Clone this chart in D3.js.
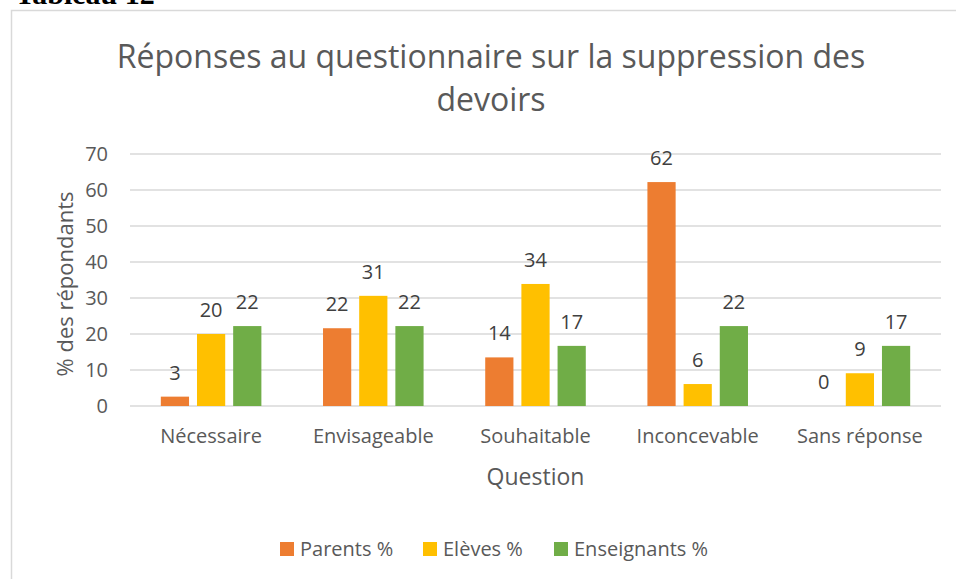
<!DOCTYPE html>
<html>
<head>
<meta charset="utf-8">
<script src="https://cdn.jsdelivr.net/npm/d3@7"></script>
<style>
  body { margin: 0; background: #fff; }
  svg text { font-family: "Open Sans", "Liberation Sans", sans-serif; }
</style>
</head>
<body>
<div id="chart"></div>
<script>
// data
const categories = ["Nécessaire", "Envisageable", "Souhaitable", "Inconcevable", "Sans réponse"];
const seriesNames = ["Parents %", "Elèves %", "Enseignants %"];
const parents = [2.6, 21.6, 13.5, 62.2, 0];
const eleves = [20, 30.6, 33.9, 6.1, 9.1];
const enseignants = [22.2, 22.2, 16.7, 22.2, 16.7];
const yTicks = [0, 10, 20, 30, 40, 50, 60, 70];
const colors = ["#ed7d31", "#ffc000", "#70ad47"];

const W = 956, H = 579;
const margin = {top: 154, right: 15, bottom: 173, left: 130};
const width = W - margin.left - margin.right;
const height = H - margin.top - margin.bottom;

const svg = d3.select("#chart").append("svg")
  .attr("width", W).attr("height", H);

// page caption, mostly cut off at top
svg.append("text")
  .attr("x", 15).attr("y", 4)
  .style("font-family", "'Liberation Serif', serif")
  .style("font-weight", "bold")
  .style("font-size", "30px")
  .attr("fill", "#000")
  .text("Tableau 12");

// chart frame
svg.append("rect")
  .attr("x", 11.5).attr("y", 10.5)
  .attr("width", W).attr("height", H)
  .attr("fill", "none")
  .attr("stroke", "#d9d9d9").attr("stroke-width", 1.5);

// title
const title = svg.append("text")
  .attr("text-anchor", "middle")
  .attr("fill", "#595959")
  .style("font-size", "32px");
title.append("tspan").attr("x", 491).attr("y", 68).text("Réponses au questionnaire sur la suppression des");
title.append("tspan").attr("x", 491).attr("y", 111).text("devoirs");

const g = svg.append("g")
  .attr("transform", `translate(${margin.left},${margin.top})`);

const x0 = d3.scaleBand().domain(categories).range([0, width]).paddingInner(0).paddingOuter(0);
const x1 = d3.scaleBand().domain(d3.range(3))
  .range([x0.bandwidth() * 0.19, x0.bandwidth() * 0.81])
  .paddingInner(0.22).paddingOuter(0);
const y = d3.scaleLinear().domain([0, 70]).range([height, 0]);

// gridlines
g.append("g").selectAll("line")
  .data(yTicks)
  .join("line")
  .attr("x1", 0).attr("x2", width)
  .attr("y1", d => y(d)).attr("y2", d => y(d))
  .attr("stroke", "#d9d9d9").attr("stroke-width", 1.5);

// y axis labels
const yAxis = g.append("g")
  .call(d3.axisLeft(y).tickValues(yTicks).tickSize(0).tickPadding(22));
yAxis.select(".domain").remove();
yAxis.selectAll("text")
  .attr("fill", "#595959")
  .style("font-size", "20px")
  .style("font-family", "'Open Sans', sans-serif");

// x axis labels
const xAxis = g.append("g")
  .attr("transform", `translate(0,${height})`)
  .call(d3.axisBottom(x0).tickSize(0).tickPadding(23));
xAxis.select(".domain").remove();
xAxis.selectAll("text")
  .attr("fill", "#595959")
  .style("font-size", "20px")
  .style("font-family", "'Open Sans', sans-serif");

// bars
const series = [parents, eleves, enseignants];
series.forEach((vals, s) => {
  const grp = g.append("g");
  grp.selectAll("rect")
    .data(vals)
    .join("rect")
    .attr("x", (d, i) => x0(categories[i]) + x1(s))
    .attr("y", d => y(d))
    .attr("width", x1.bandwidth())
    .attr("height", d => height - y(d))
    .attr("fill", colors[s]);
  grp.selectAll("text")
    .data(vals)
    .join("text")
    .attr("x", (d, i) => x0(categories[i]) + x1(s) + x1.bandwidth() / 2)
    .attr("y", d => y(d) - 17)
    .attr("text-anchor", "middle")
    .attr("fill", "#404040")
    .style("font-size", "20px")
    .text(d => Math.round(d));
});

// axis titles
svg.append("text")
  .attr("x", margin.left + width / 2).attr("y", 485)
  .attr("text-anchor", "middle")
  .attr("fill", "#595959")
  .style("font-size", "23px")
  .text("Question");

svg.append("text")
  .attr("transform", `translate(73,${margin.top + height / 2 + 4}) rotate(-90)`)
  .attr("text-anchor", "middle")
  .attr("fill", "#595959")
  .style("font-size", "22px")
  .text("% des répondants");

// legend
const legendX = [280, 423, 554];
const legend = svg.append("g");
seriesNames.forEach((name, i) => {
  legend.append("rect")
    .attr("x", legendX[i]).attr("y", 542)
    .attr("width", 14).attr("height", 14)
    .attr("fill", colors[i]);
  legend.append("text")
    .attr("x", legendX[i] + 20).attr("y", 556)
    .attr("fill", "#595959")
    .style("font-size", "20px")
    .text(name);
});
</script>
</body>
</html>
